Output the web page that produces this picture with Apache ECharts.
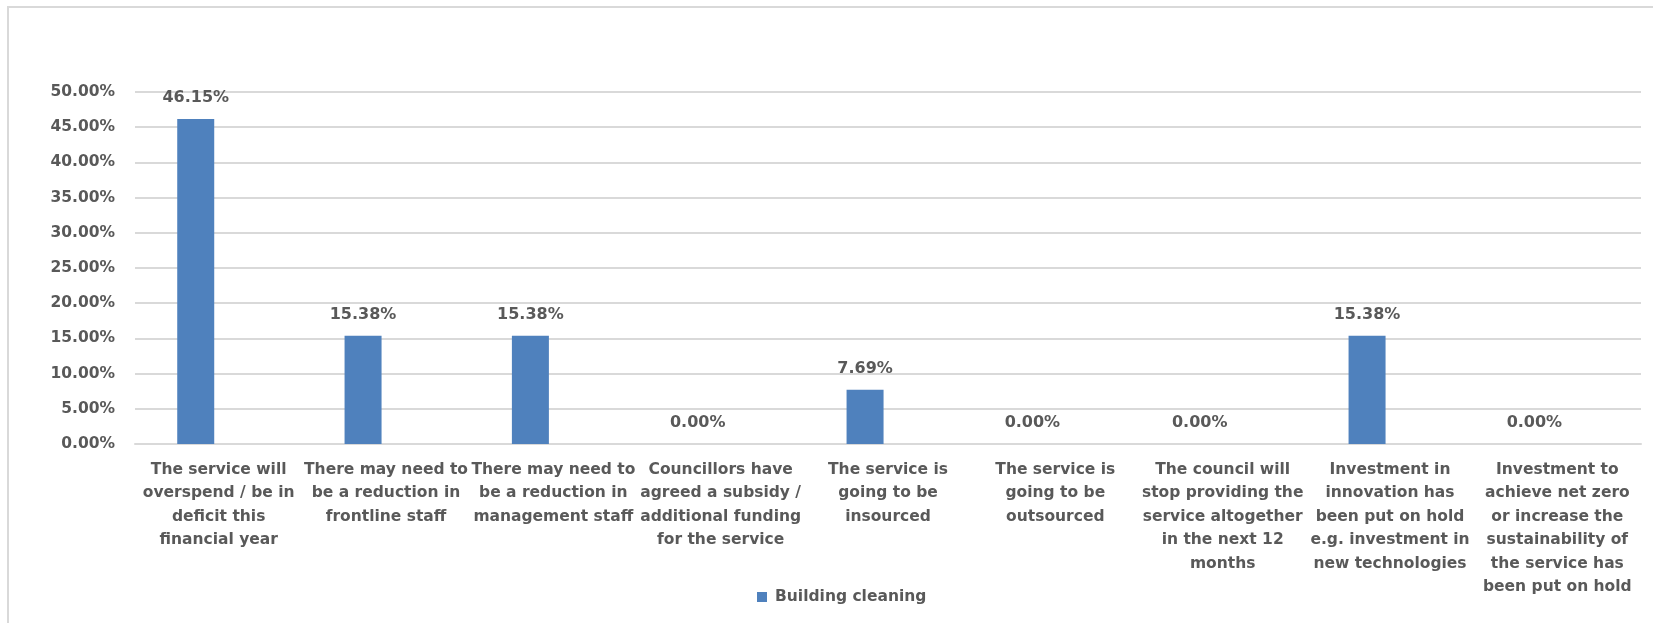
<!DOCTYPE html>
<html>
<head>
<meta charset="utf-8">
<script src="https://cdn.jsdelivr.net/npm/echarts@6/dist/echarts.min.js"></script>
<style>
html,body{margin:0;padding:0;background:#fff;}
#chart{width:1653px;height:623px;}
</style>
</head>
<body>
<div id="chart"></div>
<script>
const categories = [
  "The service will\noverspend / be in\ndeficit this\nfinancial year",
  "There may need to\nbe a reduction in\nfrontline staff",
  "There may need to\nbe a reduction in\nmanagement staff",
  "Councillors have\nagreed a subsidy /\nadditional funding\nfor the service",
  "The service is\ngoing to be\ninsourced",
  "The service is\ngoing to be\noutsourced",
  "The council will\nstop providing the\nservice altogether\nin the next 12\nmonths",
  "Investment in\ninnovation has\nbeen put on hold\ne.g. investment in\nnew technologies",
  "Investment to\nachieve net zero\nor increase the\nsustainability of\nthe service has\nbeen put on hold"
];
const seriesName = "Building cleaning";
const buildingCleaning = [46.15, 15.38, 15.38, 0.00, 7.69, 0.00, 0.00, 15.38, 0.00];
const emptySeries = [null, null, null, null, null, null, null, null, null];
const yTicks = { min: 0, max: 50, interval: 5 };

const FONT = "DejaVu Sans";
const TXT = "#595959";
const chart = echarts.init(document.getElementById('chart'), null, {renderer: 'canvas'});
chart.setOption({
  animation: false,
  backgroundColor: '#ffffff',
  graphic: [{
    type: 'rect', silent: true, z: -10,
    shape: { x: 8, y: 7, width: 1700, height: 700 },
    style: { fill: 'none', stroke: '#d9d9d9', lineWidth: 2 }
  }],
  grid: { left: 135, right: 12, top: 92, bottom: 179, containLabel: false },
  legend: {
    data: [seriesName],
    left: 752, top: 584,
    itemWidth: 10, itemHeight: 10, itemGap: 10,
    icon: 'rect',
    textStyle: { color: TXT, fontFamily: FONT, fontWeight: 'bold', fontSize: 15.5, padding: [0,0,0,3] }
  },
  xAxis: {
    type: 'category',
    data: categories,
    axisLine: { show: true, lineStyle: { color: '#d9d9d9', width: 2 } },
    axisTick: { show: false },
    axisLabel: {
      interval: 0, margin: 14,
      color: TXT, fontFamily: FONT, fontWeight: 'bold', fontSize: 15.5, lineHeight: 23.5,
      align: 'center'
    }
  },
  yAxis: {
    type: 'value',
    min: yTicks.min, max: yTicks.max, interval: yTicks.interval,
    axisLine: { show: false },
    axisTick: { show: false },
    splitLine: { lineStyle: { color: '#d9d9d9', width: 2 } },
    axisLabel: {
      margin: 20,
      color: TXT, fontFamily: FONT, fontWeight: 'bold', fontSize: 15.5,
      formatter: v => v.toFixed(2) + '%'
    }
  },
  series: [{
    name: seriesName,
    type: 'bar',
    data: buildingCleaning,
    barWidth: 37,
    barGap: '24%',
    itemStyle: { color: '#4f81bd' },
    label: {
      show: true, position: 'top', distance: 13,
      color: TXT, fontFamily: FONT, fontWeight: 'bold', fontSize: 16,
      formatter: p => p.value.toFixed(2) + '%'
    }
  }, {
    name: 'other',
    type: 'bar',
    data: emptySeries,
    barWidth: 37,
    itemStyle: { color: '#c0504d' }
  }]
});
</script>
</body>
</html>
